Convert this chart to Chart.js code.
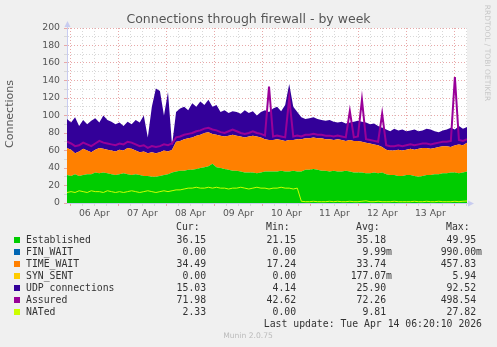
<!DOCTYPE html>
<html><head><meta charset="utf-8">
<script src="https://cdn.jsdelivr.net/npm/chart.js@4.4.1/dist/chart.umd.min.js"></script>
<style>
html,body{margin:0;padding:0;background:#f0f0f0;}
#wrap{position:relative;width:497px;height:347px;overflow:hidden;font-family:'DejaVu Sans',sans-serif;}
#c{position:absolute;left:0;top:0;}
.t{position:absolute;white-space:pre;}
.mono{font-family:'DejaVu Sans Mono',monospace;font-size:9.8px;line-height:12px;height:12px;color:#333;}
.sq{position:absolute;width:6px;height:6px;}
</style></head><body>
<div id="wrap">
<canvas id="c" width="497" height="347"></canvas>
<div class="t" style="left:0;width:497px;top:11px;text-align:center;font-size:12.5px;line-height:16px;color:#555">Connections through firewall - by week</div>
<div class="t" style="left:-40px;top:107px;width:100px;height:14px;line-height:14px;text-align:center;font-size:11px;color:#555;transform:rotate(-90deg)">Connections</div>
<div class="t" style="left:432px;top:48px;width:110px;height:10px;line-height:10px;text-align:center;font-size:7.5px;color:#c8c8c8;transform:rotate(90deg)">RRDTOOL / TOBI OETIKER</div>
<div id="legend"></div>
<div class="t" style="left:198px;width:100px;top:331px;line-height:10px;text-align:center;font-size:7.6px;color:#bbb">Munin 2.0.75</div>
</div>
<script>
// ---- time axis ----
const START_HOUR = -1.67;   // hours relative to 06 Apr 00:00
const END_HOUR = 198.33;    // Tue Apr 14 06:20
const dayLabels = ['06 Apr','07 Apr','08 Apr','09 Apr','10 Apr','11 Apr','12 Apr','13 Apr'];
const yTickLabels = [0,20,40,60,80,100,120,140,160,180,200];

// ---- series (one sample every ~2h) ----
const established = [32,31,33,31,32,33,33,35,34,35,34,33,32,
  33,34,33,32,33,32,31,31,30,30,31,32,
  33,35,36,37,37,38,
  38,39,40,41,42,45,41,
  40,39,38,37,37,36,35,35,35,34,35,
  36,36,36,36,37,36,36,37,36,36,38,38,
  39,38,37,37,36,37,36,36,37,36,35,35,
  35,34,34,35,34,35,33,32,32,31,31,32,
  32,31,30,31,32,32,33,33,34,34,35,35,34,35,36];
const timeWait = [31,30,24,28,30,27,25,26,29,27,27,27,27,
  28,26,30,30,27,26,28,26,28,27,27,28,
  26,26,
  34,34,36,36,37,38,38,39,39,34,37,
  37,37,39,41,40,40,40,41,42,42,40,
  37,36,36,37,35,35,36,35,37,37,36,36,
  36,36,37,36,37,35,37,36,34,36,36,36,
  35,35,34,32,32,29,28,28,28,30,29,29,
  30,30,32,32,31,30,30,31,31,31,29,31,33,31,33];
const udp = [33,31,41,29,33,30,36,36,29,38,34,33,31,
  31,28,30,28,35,34,41,18,52,74,70,40,68,5,34,
  37,37,32,39,33,38,32,37,31,34,
  27,30,26,27,27,26,31,27,28,24,29,
  33,32,36,37,33,41,64,38,31,25,22,23,
  23,22,21,21,22,21,19,21,20,20,22,23,
  23,23,22,24,22,22,23,22,25,22,24,21,
  21,23,20,20,22,22,19,17,18,19,22,18,21,19,18];
const assured = [70,68,65,66,69,67,65,68,71,69,68,67,66,
  68,67,70,69,67,65,66,63,65,64,65,67,
  66,68,
  75,76,78,79,80,82,83,85,86,84,83,
  81,80,82,84,82,80,79,80,82,80,79,
  77,133,76,77,76,75,120,76,77,76,78,78,
  79,78,78,77,77,76,77,76,75,105,75,76,
  118,73,72,71,70,102,66,65,65,66,65,66,
  67,66,67,68,68,67,68,69,70,70,71,144,72,71,73];
const nated = [12,13,12,14,13,12,14,13,13,12,14,13,12,13,12,13,14,13,12,13,14,13,12,13,14,13,14,15,15,16,17,
  17,18,17,17,18,17,18,17,17,16,17,17,18,17,16,17,18,17,17,16,17,17,18,17,17,16,17,
  2,1.5,1.5,2,1.5,1.5,1.5,2,1.5,2,1.5,1.5,2,1.5,1.5,2,2.5,1.5,1.5,2,1.5,
  1.5,1.5,2,1.5,1.5,1.5,1.5,2,1.5,1.5,2,1.5,1.5,2,1.5,1.5,1.5,2,1.5,2,2.3];

// ---- legend table ----
const seriesNames = ['Established','FIN_WAIT','TIME_WAIT','SYN_SENT','UDP connections','Assured','NATed'];
const seriesColors = ['#00CC00','#0066B3','#FF8000','#FFCC00','#330099','#990099','#CCFF00'];
const curVals = ['36.15','0.00','34.49','0.00','15.03','71.98','2.33'];
const minVals = ['21.15','0.00','17.24','0.00','4.14','42.62','0.00'];
const avgVals = ['35.18','9.99m','33.74','177.07m','25.90','72.26','9.81'];
const maxVals = ['49.95','990.00m','457.83','5.94','92.52','498.54','27.82'];
const lastUpdate = 'Last update: Tue Apr 14 06:20:10 2026';

// build legend
(function(){
  const lg = document.getElementById('legend');
  const add = (html) => lg.insertAdjacentHTML('beforeend', html);
  const headers = ['Cur:','Min:','Avg:','Max:'];
  const headerLeft = [176,266,356,446];
  headers.forEach((h,k)=> add(`<div class="t mono" style="left:${headerLeft[k]}px;top:${227-6}px">${h}</div>`));
  const cols = [curVals,minVals,avgVals,maxVals];
  const rights = [212,302,392,482];
  seriesNames.forEach((n,i)=>{
    const yc = 239.5 + i*12;
    add(`<div class="sq" style="left:14px;top:${Math.round(yc-3)}px;background:${seriesColors[i]}"></div>`);
    add(`<div class="t mono" style="left:26px;top:${yc-6}px">${n}</div>`);
    cols.forEach((arr,k)=>{
      let v = arr[i];
      if(!/[a-z]$/i.test(v)) v = v + '\u00a0';
      add(`<div class="t mono" style="left:${rights[k]-80}px;width:80px;text-align:right;top:${yc-6}px">${v}</div>`);
    });
  });
  add(`<div class="t mono" style="left:${482-260}px;width:260px;text-align:right;top:${323.7-6}px">${lastUpdate}</div>`);
})();

const n = established.length;
const times = established.map((_, i) => START_HOUR + i * (END_HOUR - START_HOUR) / (n - 1));
const pts = arr => arr.map((v, i) => ({x: times[i], y: v}));

const bgPlugin = {
  id: 'bg',
  beforeDraw(chart) {
    const {ctx, chartArea: a} = chart;
    ctx.save();
    ctx.fillStyle = '#F0F0F0';
    ctx.fillRect(0, 0, chart.width, chart.height);
    ctx.fillStyle = '#FFFFFF';
    ctx.fillRect(a.left, a.top, a.right - a.left, a.bottom - a.top);
    ctx.restore();
  },
  afterDraw(chart) {
    const {ctx, chartArea: a} = chart;
    ctx.save();
    ctx.strokeStyle = '#C8CCF0';
    ctx.fillStyle = '#C8CCF0';
    ctx.lineWidth = 1;
    ctx.beginPath();
    ctx.moveTo(a.left + 0.5, a.top); ctx.lineTo(a.left + 0.5, a.top - 3);
    ctx.moveTo(a.right, a.bottom + 0.5); ctx.lineTo(a.right + 3, a.bottom + 0.5);
    ctx.stroke();
    ctx.beginPath();
    ctx.moveTo(a.left + 0.5, a.top - 7); ctx.lineTo(a.left - 2.5, a.top - 1); ctx.lineTo(a.left + 3.5, a.top - 1); ctx.closePath();
    ctx.fill();
    ctx.beginPath();
    ctx.moveTo(a.right + 7, a.bottom + 0.5); ctx.lineTo(a.right + 1, a.bottom - 2.5); ctx.lineTo(a.right + 1, a.bottom + 3.5); ctx.closePath();
    ctx.fill();
    ctx.restore();
  }
};

const area = (label, data, color, fill) => ({
  label, data: pts(data), backgroundColor: color, borderColor: color, borderWidth: 0,
  pointRadius: 0, fill, stack: 'areas', tension: 0
});

// Datasets listed lines-first so they draw on top; areas stack in index order.
new Chart(document.getElementById('c'), {
  type: 'line',
  data: {
    datasets: [
      {label: 'NATed', data: pts(nated), borderColor: '#CCFF00', borderWidth: 1, pointRadius: 0, fill: false, stack: 'nated', tension: 0},
      {label: 'Assured', data: pts(assured), borderColor: '#990099', borderWidth: 2, pointRadius: 0, fill: false, stack: 'assured', tension: 0},
      area('Established', established, '#00CC00', 'origin'),
      area('TIME_WAIT', timeWait, '#FF8000', '-1'),
      area('UDP connections', udp, '#330099', '-1')
    ]
  },
  options: {
    responsive: false,
    animation: false,
    devicePixelRatio: 1,
    layout: {padding: {left: 0, right: 30, top: 28, bottom: 0}},
    plugins: {legend: {display: false}, title: {display: false}, tooltip: {enabled: false}},
    scales: {
      x: {
        type: 'linear', min: START_HOUR, max: END_HOUR,
        afterBuildTicks: s => { const t = []; for (let h = 0; h <= END_HOUR; h += 6) t.push({value: h}); s.ticks = t; },
        ticks: {autoSkip: false, maxRotation: 0, minRotation: 0, padding: 2, color: '#555',
          font: {family: 'DejaVu Sans', size: 9.3},
          callback: v => (v % 24 === 12) ? dayLabels[Math.floor(v / 24)] : ''},
        grid: {color: c => (c.tick && c.tick.value % 24 === 0) ? '#E8A8A8' : '#D8D8D8', lineWidth: 1, drawTicks: true, tickLength: 3},
        border: {display: true, color: '#C8CCF0', dash: [1, 2]},
        afterFit: s => { s.height = 144; }
      },
      y: {
        type: 'linear', min: 0, max: 200, stacked: true, position: 'left',
        ticks: {stepSize: 10, autoSkip: false, padding: 4, color: '#555',
          font: {family: 'DejaVu Sans', size: 9.3},
          callback: v => yTickLabels.includes(v) ? String(v) : ''},
        grid: {color: c => (c.tick && c.tick.value % 20 === 0) ? '#E8A8A8' : '#D8D8D8', lineWidth: 1, drawTicks: true, tickLength: 3},
        border: {display: true, color: '#C8CCF0', dash: [1, 2]},
        afterFit: s => { s.width = 67; }
      }
    }
  },
  plugins: [bgPlugin]
});
</script>
</body></html>
